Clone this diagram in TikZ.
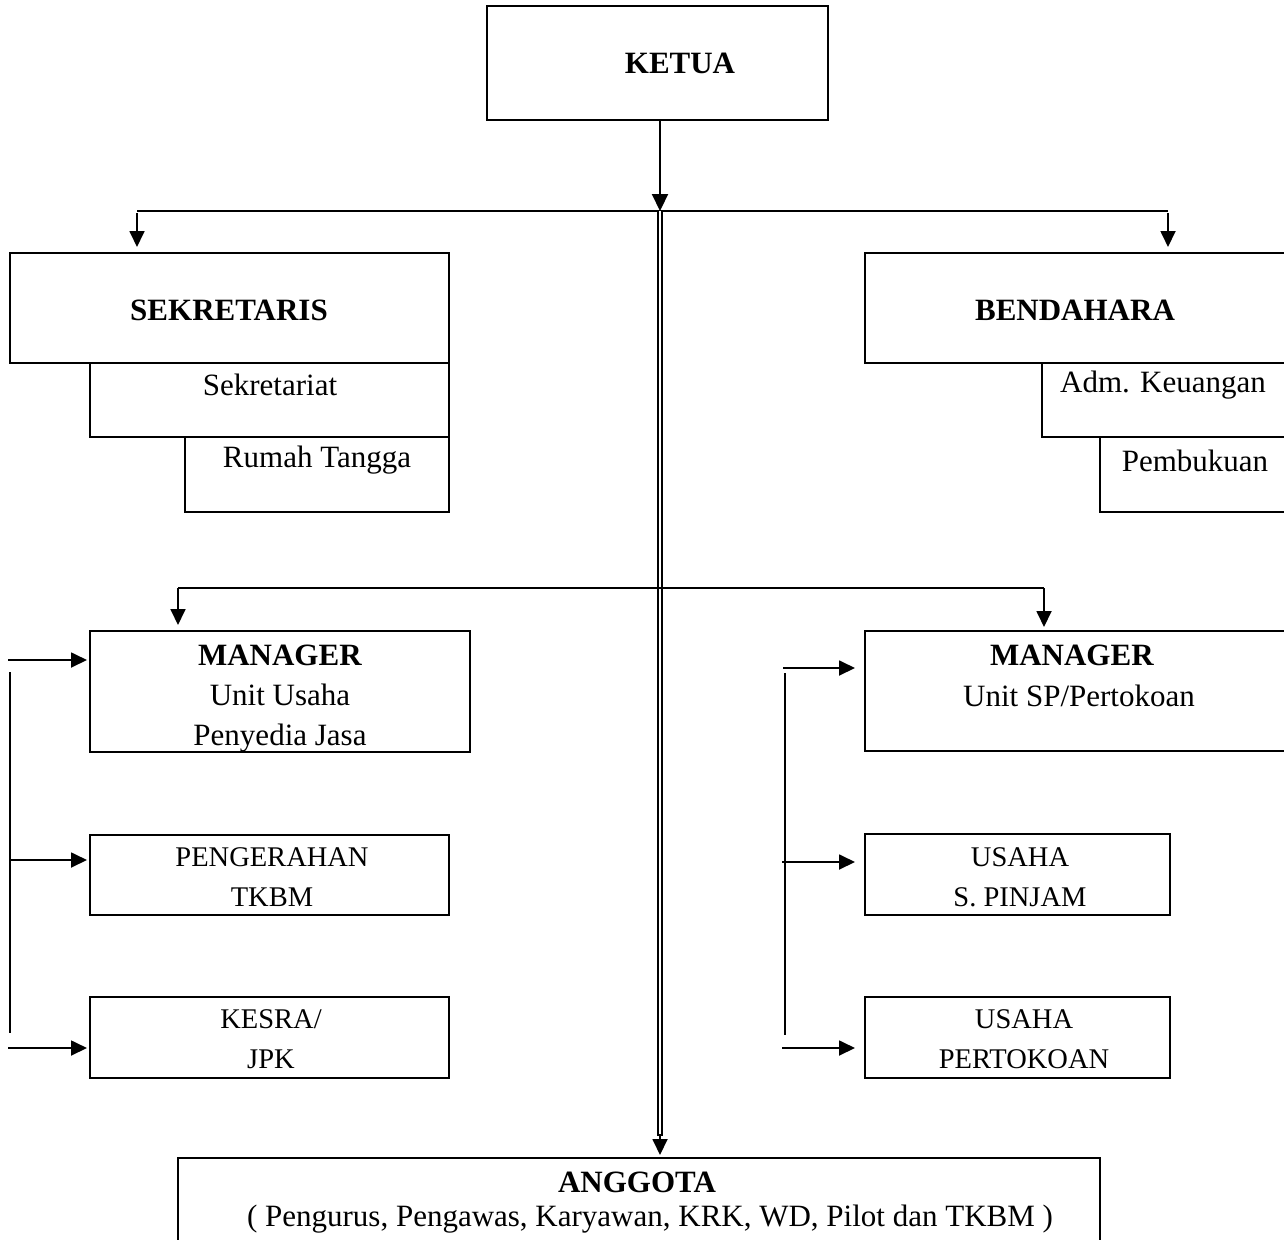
\documentclass[tikz,border=0pt]{standalone}
\usepackage{fontspec}
\setmainfont{Liberation Serif}
\usetikzlibrary{arrows.meta}
\begin{document}
\begin{tikzpicture}[x=1pt,y=-1pt,
  box/.style={draw, line width=1.4pt, rectangle, inner sep=0pt, outer sep=0pt, anchor=north west},
  big/.style={inner sep=0pt, font=\fontsize{31}{40}\selectfont, align=center},
  small/.style={inner sep=0pt, font=\fontsize{28.5}{40}\selectfont, align=center},
  conn/.style={line width=1.4pt},
  arr/.style={line width=1.8pt, -{Triangle[length=16pt,width=15pt]}},
  bigarr/.style={line width=2.2pt, -{Triangle[length=17pt,width=16pt]}}]
\useasboundingbox (0,0) rectangle (1284,1239);
\clip (0,0) rectangle (1284,1239);

% boxes
\node[box, minimum width=341pt, minimum height=114pt] (ketua) at (487,6) {};
\node[box, minimum width=439pt, minimum height=110pt] (sekr) at (10,253) {};
\node[box, minimum width=359pt, minimum height=74pt] (sekrt) at (90,363) {};
\node[box, minimum width=264pt, minimum height=75pt] (rumah) at (185,437) {};
\node[box, minimum width=430pt, minimum height=110pt] (bend) at (865,253) {};
\node[box, minimum width=253pt, minimum height=74pt] (adm) at (1042,363) {};
\node[box, minimum width=195pt, minimum height=75pt] (buku) at (1100,437) {};
\node[box, minimum width=380pt, minimum height=121pt] (manl) at (90,631) {};
\node[box, minimum width=430pt, minimum height=120pt] (manr) at (865,631) {};
\node[box, minimum width=359pt, minimum height=80pt] (peng) at (90,835) {};
\node[box, minimum width=359pt, minimum height=81pt] (kesra) at (90,997) {};
\node[box, minimum width=305pt, minimum height=81pt] (usp) at (865,834) {};
\node[box, minimum width=305pt, minimum height=81pt] (utok) at (865,997) {};
\node[box, minimum width=922pt, minimum height=100pt] (angg) at (178,1158) {};

% texts
\node[big] (tketua) at (680,63) {\textbf{KETUA}};
\node[big] (tsekr) at (229,310) {\textbf{SEKRETARIS}};
\node[big] (tsekrt) at (270,385) {Sekretariat};
\node[big] (trumah) at (317,460) {Rumah Tangga};
\node[big] (tbend) at (1075,310) {\textbf{BENDAHARA}};
\node[big] (tadm) at (1163,385) {Adm. Keuangan};
\node[big] (tbuku) at (1195,461) {Pembukuan};
\node[big, anchor=north] (tmanl) at (280,645) {\textbf{MANAGER}\\ Unit Usaha\\ Penyedia Jasa};
\node[big, anchor=north] (tmanr1) at (1072,645) {\textbf{MANAGER}};
\node[big, anchor=north] (tmanr2) at (1079,685) {Unit SP/Pertokoan};
\node[small] (tpeng) at (272,877) {PENGERAHAN\\ TKBM};
\node[small] (tkesra) at (271,1039) {KESRA/\\ JPK};
\node[small] (tusp) at (1020,877) {USAHA\\ S. PINJAM};
\node[small] (tutok) at (1024,1039) {USAHA\\ PERTOKOAN};
\node[big] (tangg) at (637,1182) {\textbf{ANGGOTA}};
\node[big] (tangg2) at (650,1219) {( Pengurus, Pengawas, Karyawan, KRK, WD, Pilot dan TKBM )};

% coordinates
\coordinate (j1) at (660,211);
\coordinate (jL) at (137,211);
\coordinate (jR) at (1168,211);
\coordinate (j2L) at (178,588);
\coordinate (j2R) at (1044,588);
\coordinate (dEnd) at (660,1136);

% top connectors
\draw[bigarr] (ketua.south -| j1) -- (j1);
\draw[conn] (jL) -- (jR);
\draw[arr] ([yshift=-2pt]jL) -- ([yshift=6pt]jL |- sekr.north);
\draw[arr] ([yshift=-2pt]jR) -- ([yshift=6pt]jR |- bend.north);

% central double line
\draw[line width=1.4pt, double distance=2.4pt] (j1) -- (dEnd);
\draw[arr] ([yshift=2pt]dEnd) -- ([yshift=3pt]angg.north -| dEnd);

% second level
\draw[conn] (j2L) -- (j2R);
\draw[arr] (j2L) -- ([yshift=6pt]j2L |- manl.north);
\draw[arr] (j2R) -- ([yshift=4pt]j2R |- manr.north);

% left side feeds
\coordinate (la) at (8,660);
\coordinate (lb) at (10,860);
\coordinate (lc) at (8,1048);
\draw[arr] (la) -- ([xshift=-3pt]la -| manl.west);
\draw[conn] (10,672) -- (10,1033);
\draw[arr] (lb) -- ([xshift=-3pt]lb -| peng.west);
\draw[arr] (lc) -- ([xshift=-3pt]lc -| kesra.west);

% right side feeds
\coordinate (ra) at (783,668);
\coordinate (rb) at (782,862);
\coordinate (rc) at (782,1048);
\draw[arr] (ra) -- ([xshift=-10pt]ra -| manr.west);
\draw[conn] (785,673) -- (785,1035);
\draw[arr] (rb) -- ([xshift=-10pt]rb -| usp.west);
\draw[arr] (rc) -- ([xshift=-10pt]rc -| utok.west);
\end{tikzpicture}
\end{document}
